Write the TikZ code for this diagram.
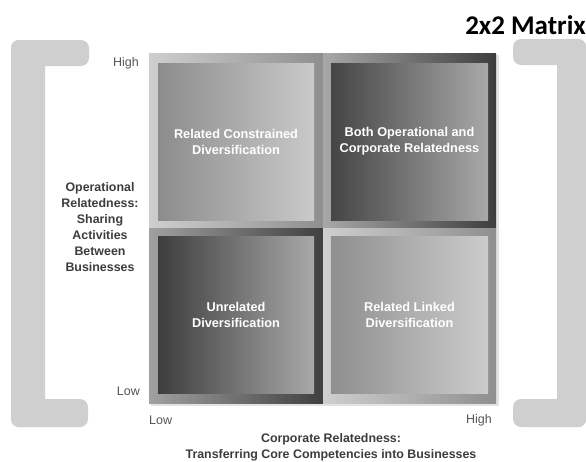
\documentclass[tikz,border=0pt]{standalone}
\usepackage{fontspec}
\setmainfont{Liberation Sans}
\newfontfamily\titlefont{Carlito}
\definecolor{brk}{HTML}{CFCFCF}
\definecolor{labgray}{HTML}{3C3C3C}
\definecolor{tickgray}{HTML}{555555}
\definecolor{shadowgray}{HTML}{E2E2E2}
\begin{document}
\begin{tikzpicture}[x=1pt,y=-1pt,
  bracketpart/.style={fill=brk, rounded corners=8pt},
  cellbox/.style={inner sep=0pt, outer sep=0pt, anchor=north west},
  celltext/.style={text=white, font=\fontsize{12.75}{16}\selectfont\bfseries, align=center},
  axlabel/.style={text=labgray, font=\fontsize{12.4}{16}\selectfont\bfseries, align=center},
  ticklabel/.style={text=tickgray, font=\fontsize{12.5}{15}\selectfont, inner sep=0pt}
]
\useasboundingbox (0,0) rectangle (586,461);
% left bracket
\fill[bracketpart] (11,40) rectangle (45,427);
\fill[bracketpart] (11,40) rectangle (89,66);
\fill[bracketpart] (11,399) rectangle (88,427);
% right bracket
\fill[bracketpart] (557,39) rectangle (586,427);
\fill[bracketpart] (513,39) rectangle (586,65);
\fill[bracketpart] (513,399) rectangle (586,427);
% title
\node[font=\titlefont\fontsize{27}{30}\selectfont\bfseries, anchor=base east, inner sep=0pt] (title) at (586,34) {2x2 Matrix};
% matrix shadow
\fill[shadowgray] (151,55) rectangle (499,406);
% outer cells
\node[cellbox, minimum width=174pt, minimum height=175pt, left color=white!81!black, right color=white!56!black] (tlo) at (149,53) {};
\node[cellbox, minimum width=173pt, minimum height=175pt, left color=white!66!black, right color=white!24!black] (tro) at (323,53) {};
\node[cellbox, minimum width=174pt, minimum height=175pt, left color=white!63!black, right color=white!25!black] (blo) at (149,228) {};
\node[cellbox, minimum width=173pt, minimum height=175pt, left color=white!81!black, right color=white!56!black] (bro) at (323,228) {};
% inner squares
\node[cellbox, minimum width=156pt, minimum height=157pt, left color=white!55!black, right color=white!79!black] (tli) at (158,63) {};
\node[cellbox, minimum width=157pt, minimum height=157pt, left color=white!27!black, right color=white!66!black] (tri) at (331,63) {};
\node[cellbox, minimum width=156pt, minimum height=157pt, left color=white!24!black, right color=white!66!black] (bli) at (158,236) {};
\node[cellbox, minimum width=157pt, minimum height=157pt, left color=white!56!black, right color=white!80!black] (bri) at (331,236) {};
% cell texts
\node[celltext] (t1) at (tli.center) {Related Constrained\\Diversification};
\node[celltext] (t2) at (tri.center) {Both Operational and\\Corporate Relatedness};
\node[celltext] (t3) at (bli.center) {Unrelated\\Diversification};
\node[celltext] (t4) at (bri.center) {Related Linked\\Diversification};
% tick labels
\node[ticklabel, anchor=east] (yhigh) at (139,63) {High};
\node[ticklabel, anchor=east] (ylow) at (140,391) {Low};
\node[ticklabel, anchor=west] (xlow) at (149,420) {Low};
\node[ticklabel, anchor=east] (xhigh) at (492,420) {High};
% axis labels
\node[axlabel] (ylab) at (100,227) {Operational\\Relatedness:\\Sharing\\Activities\\Between\\Businesses};
\node[axlabel] (xlab) at (331,447) {Corporate Relatedness:\\Transferring Core Competencies into Businesses};
\end{tikzpicture}
\end{document}
